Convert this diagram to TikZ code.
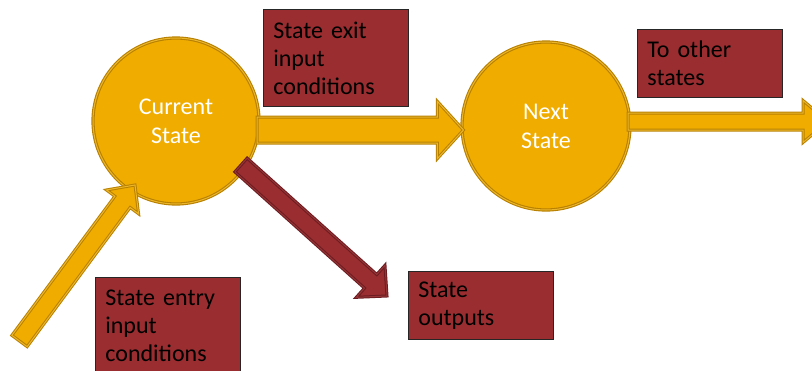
\documentclass[tikz,border=0pt]{standalone}
\usepackage{fontspec}
\setmainfont{Carlito}
\usetikzlibrary{calc}

\definecolor{gold}{RGB}{240,173,0}
\definecolor{goldedge}{RGB}{184,128,0}
\definecolor{goldinner}{RGB}{236,182,44}
\definecolor{wine}{RGB}{153,45,48}
\definecolor{wineedge}{RGB}{108,28,32}
\definecolor{wineinner}{RGB}{150,52,55}

\newcommand{\tightspaces}{\spaceskip=0.2em\relax}

\tikzset{
  statecircle/.style={circle, fill=gold, draw=goldedge, double=goldinner,
    double distance=1pt, line width=1.1pt, text=white, inner sep=0pt,
    font=\fontsize{24}{29}\selectfont\tightspaces, align=center},
  labelbox/.style={rectangle, fill=wine, draw=black!85, line width=0.8pt,
    anchor=north west, text=black,
    font=\fontsize{24}{28}\selectfont\tightspaces,
    align=left, text width=125pt, inner xsep=10pt, inner ysep=0pt},
  goldarrow/.style={fill=gold, draw=goldedge, double=goldinner,
    double distance=1pt, line width=1pt, line join=miter},
  winearrow/.style={fill=wine, draw=wineedge, double=wineinner,
    double distance=1pt, line width=1pt, line join=miter},
}

% block arrow: style, tail, tip, shaft half width, head half width, head length
\newcommand{\blockarrow}[6]{%
  \path ($(#3)!#6!(#2)$) coordinate (bahead);
  \draw[#1] ($(#2)!#4!90:(#3)$) -- ($(bahead)!#4!90:(#3)$)
    -- ($(bahead)!#5!90:(#3)$) -- (#3) -- ($(bahead)!#5!-90:(#3)$)
    -- ($(bahead)!#4!-90:(#3)$) -- ($(#2)!#4!-90:(#3)$) -- cycle;
}

\begin{document}
\begin{tikzpicture}[x=1pt, y=1pt]
  \useasboundingbox (0,0) rectangle (812,-370);

  % states
  \node[statecircle, minimum size=166pt] (cur) at (176,-121) {Current\\State};
  \node[statecircle, minimum size=168pt] (next) at (546,-126) {Next\\State};

  % label boxes
  \node[labelbox, minimum height=97pt] (exitlbl) at (263,-9) {State exit\\input\\conditions};
  \node[labelbox, minimum height=68pt] (otherlbl) at (637,-29) {To other\\states};
  \node[labelbox, minimum height=68pt] (outlbl) at (408,-271) {State\\outputs};
  \node[labelbox, minimum height=97pt] (entrylbl) at (95,-277) {State entry\\input\\conditions};

  % arrow end points
  \coordinate (entrytail) at (19.5,-341);
  \coordinate (entrytip) at (135,-185);
  \coordinate (exittail) at (257,-130);
  \coordinate (exittip) at ($(next.west)+(2,-4)$);
  \coordinate (othertail) at (628,-121.5);
  \coordinate (othertip) at (828,-121.5);
  \coordinate (outtail) at (241,-165);
  \coordinate (outtip) at (387,-296);

  % transitions
  \blockarrow{goldarrow}{entrytail}{entrytip}{9.5pt}{20pt}{21pt}
  \blockarrow{goldarrow}{exittail}{exittip}{13pt}{28.5pt}{26pt}
  \blockarrow{goldarrow}{othertail}{othertip}{8.5pt}{21pt}{25pt}
  \blockarrow{winearrow}{outtail}{outtip}{9.2pt}{21.5pt}{22pt}
\end{tikzpicture}
\end{document}
